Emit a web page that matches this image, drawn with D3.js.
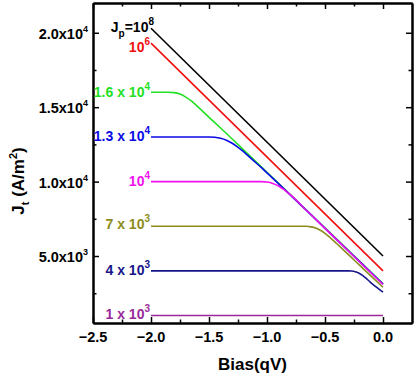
<!DOCTYPE html>
<html>
<head>
<meta charset="utf-8">
<script src="https://cdn.jsdelivr.net/npm/d3@7"></script>
<style>
  body { margin: 0; background: #fff; }
  svg text { font-family: "Liberation Sans", Arial, sans-serif; font-weight: bold; }
</style>
</head>
<body>
<svg id="chart" width="419" height="378"></svg>
<script>
// Bias values (qV) and current densities Jt (A/m^2)
const jp1e8_bias = [-2.0, 0.0];
const jp1e8_j = [20300, 5000];

const jp1e6_bias = [-2.0, 0.0];
const jp1e6_j = [19300, 4000];

const jp16k_bias = [-2.0, -1.85, -1.8, -1.75, -1.7, -1.65, -1.6, -1.5, -1.4, -1.2, -1.0, -0.5, 0.0];
const jp16k_j = [16000, 16000, 15980, 15880, 15680, 15400, 15050, 14320, 13600, 12120, 10630, 6890, 3140];

const jp13k_bias = [-2.0, -1.5, -1.45, -1.4, -1.35, -1.3, -1.25, -1.2, -1.15, -1.1, -1.05, -1.0, -0.5, 0.0];
const jp13k_j = [13000, 13000, 12980, 12910, 12780, 12580, 12300, 12000, 11650, 11300, 10950, 10590, 6860, 3110];

const jp10k_bias = [-2.0, -1.05, -1.0, -0.95, -0.9, -0.85, -0.8, -0.75, -0.7, -0.6, -0.5, 0.0];
const jp10k_j = [10000, 10000, 9970, 9880, 9700, 9440, 9120, 8770, 8380, 7620, 6860, 3090];

const jp7k_bias = [-2.0, -0.66, -0.62, -0.58, -0.54, -0.5, -0.46, -0.42, -0.38, -0.3, -0.2, -0.1, 0.0];
const jp7k_j = [7000, 7000, 6960, 6880, 6730, 6520, 6270, 5990, 5700, 5110, 4370, 3630, 2900];

const jp4k_bias = [-2.0, -0.3, -0.27, -0.24, -0.21, -0.18, -0.15, -0.12, -0.09, -0.06, -0.03, 0.0];
const jp4k_j = [4000, 4000, 3990, 3950, 3860, 3720, 3530, 3320, 3110, 2920, 2740, 2570];

const jp1k_bias = [-2.0, 0.0];
const jp1k_j = [1000, 1000];

const curve_colors = ["#000000", "#f01010", "#22e022", "#0a0ae6", "#f010f0", "#8c8c1c", "#16168a", "#9a2a9a"];
const label_main = ["J", "10", "1.6 x 10", "1.3 x 10", "10", "7 x 10", "4 x 10", "1 x 10"];
const label_exp = ["8", "6", "4", "4", "4", "3", "3", "3"];

const x_ticks = [-2.5, -2.0, -1.5, -1.0, -0.5, 0.0];
const x_minor = [-2.25, -1.75, -1.25, -0.75, -0.25];
const y_ticks = [5000, 10000, 15000, 20000];
const y_tick_main = ["5.0x10", "1.0x10", "1.5x10", "2.0x10"];
const y_tick_exp = ["3", "4", "4", "4"];
const y_minor = [2500, 7500, 12500, 17500];

const series = [
    [jp1e8_bias, jp1e8_j],
    [jp1e6_bias, jp1e6_j],
    [jp16k_bias, jp16k_j],
    [jp13k_bias, jp13k_j],
    [jp10k_bias, jp10k_j],
    [jp7k_bias, jp7k_j],
    [jp4k_bias, jp4k_j],
    [jp1k_bias, jp1k_j]
].map(([b, j]) => b.map((v, i) => ({bias: v, j: j[i]})));

const svg = d3.select("#chart");
const m_left = 93, m_right = 412, m_top = 3, m_bottom = 323;

const x = d3.scaleLinear().domain([-2.5, 0.25]).range([m_left, m_right]);
const y = d3.scaleLinear().domain([500, 22000]).range([m_bottom, m_top]);

// Curves
const line = d3.line().x(d => x(d.bias)).y(d => y(d.j)).curve(d3.curveMonotoneX);
svg.append("g").selectAll("path")
    .data(series)
    .enter().append("path")
    .attr("d", line)
    .attr("fill", "none")
    .attr("stroke", (d, i) => curve_colors[i])
    .attr("stroke-width", 1.6);

// Axes, ticks pointing inward on all four sides
const axis_style = g => {
    g.selectAll("path.domain").attr("stroke", "#000").attr("stroke-width", 2);
    g.selectAll(".tick line").attr("stroke", "#000").attr("stroke-width", 1.5);
    g.selectAll("text").remove();
};
svg.append("g").attr("transform", `translate(0,${m_bottom})`)
    .call(d3.axisBottom(x).tickValues(x_ticks).tickSizeInner(-6).tickSizeOuter(0)).call(axis_style);
svg.append("g").attr("transform", `translate(0,${m_top})`)
    .call(d3.axisTop(x).tickValues(x_ticks).tickSizeInner(-6).tickSizeOuter(0)).call(axis_style);
svg.append("g").attr("transform", `translate(${m_left},0)`)
    .call(d3.axisLeft(y).tickValues(y_ticks).tickSizeInner(-6).tickSizeOuter(0)).call(axis_style);
svg.append("g").attr("transform", `translate(${m_right},0)`)
    .call(d3.axisRight(y).tickValues(y_ticks).tickSizeInner(-6).tickSizeOuter(0)).call(axis_style);
// minor ticks
svg.append("g").attr("transform", `translate(0,${m_bottom})`)
    .call(d3.axisBottom(x).tickValues(x_minor).tickSizeInner(-3.5).tickSizeOuter(0)).call(axis_style);
svg.append("g").attr("transform", `translate(0,${m_top})`)
    .call(d3.axisTop(x).tickValues(x_minor).tickSizeInner(-3.5).tickSizeOuter(0)).call(axis_style);
svg.append("g").attr("transform", `translate(${m_left},0)`)
    .call(d3.axisLeft(y).tickValues(y_minor).tickSizeInner(-3.5).tickSizeOuter(0)).call(axis_style);
svg.append("g").attr("transform", `translate(${m_right},0)`)
    .call(d3.axisRight(y).tickValues(y_minor).tickSizeInner(-3.5).tickSizeOuter(0)).call(axis_style);

// X tick labels
svg.append("g").selectAll("text")
    .data(x_ticks)
    .enter().append("text")
    .attr("x", d => x(d))
    .attr("y", m_bottom + 19)
    .attr("text-anchor", "middle")
    .attr("font-size", 14.5)
    .text(d => d3.format(".1f")(d));

// Y tick labels with exponents
const ylab = svg.append("g").selectAll("text")
    .data(y_ticks)
    .enter().append("text")
    .attr("x", m_left - 5)
    .attr("y", d => y(d) + 6)
    .attr("text-anchor", "end")
    .attr("font-size", 14.5);
ylab.append("tspan").text((d, i) => y_tick_main[i]);
ylab.append("tspan").attr("dy", -7).attr("font-size", 9).text((d, i) => y_tick_exp[i]);

// Curve labels, ending where each curve starts
const label_dy = [4, 9, 5, 4, 4, 3, 4, 3];
const lab = svg.append("g").selectAll("text")
    .data(series)
    .enter().append("text")
    .attr("x", (d, i) => x(d[0].bias) + (i === 0 ? 3 : -1))
    .attr("y", (d, i) => y(d[0].j) + label_dy[i])
    .attr("text-anchor", "end")
    .attr("font-size", 14)
    .attr("fill", (d, i) => curve_colors[i]);
lab.each(function (d, i) {
    const t = d3.select(this);
    if (i === 0) {
        t.append("tspan").text("J");
        t.append("tspan").attr("dy", 5).attr("font-size", 10).text("p");
        t.append("tspan").attr("dy", -5).text("=10");
    } else {
        t.append("tspan").text(label_main[i]);
    }
    t.append("tspan").attr("dy", -7).attr("font-size", 10).text(label_exp[i]);
});

// Axis titles
svg.append("text")
    .attr("x", (m_left + m_right) / 2)
    .attr("y", 370)
    .attr("text-anchor", "middle")
    .attr("font-size", 17)
    .text("Bias(qV)");

const ytitle = svg.append("text")
    .attr("transform", "translate(24,181) rotate(-90)")
    .attr("text-anchor", "middle")
    .attr("font-size", 17);
ytitle.append("tspan").text("J");
ytitle.append("tspan").attr("dy", 5).attr("font-size", 11).text("t");
ytitle.append("tspan").attr("dy", -5).text(" (A/m");
ytitle.append("tspan").attr("dy", -7).attr("font-size", 11).text("2");
ytitle.append("tspan").attr("dy", 7).text(")");
</script>
</body>
</html>
